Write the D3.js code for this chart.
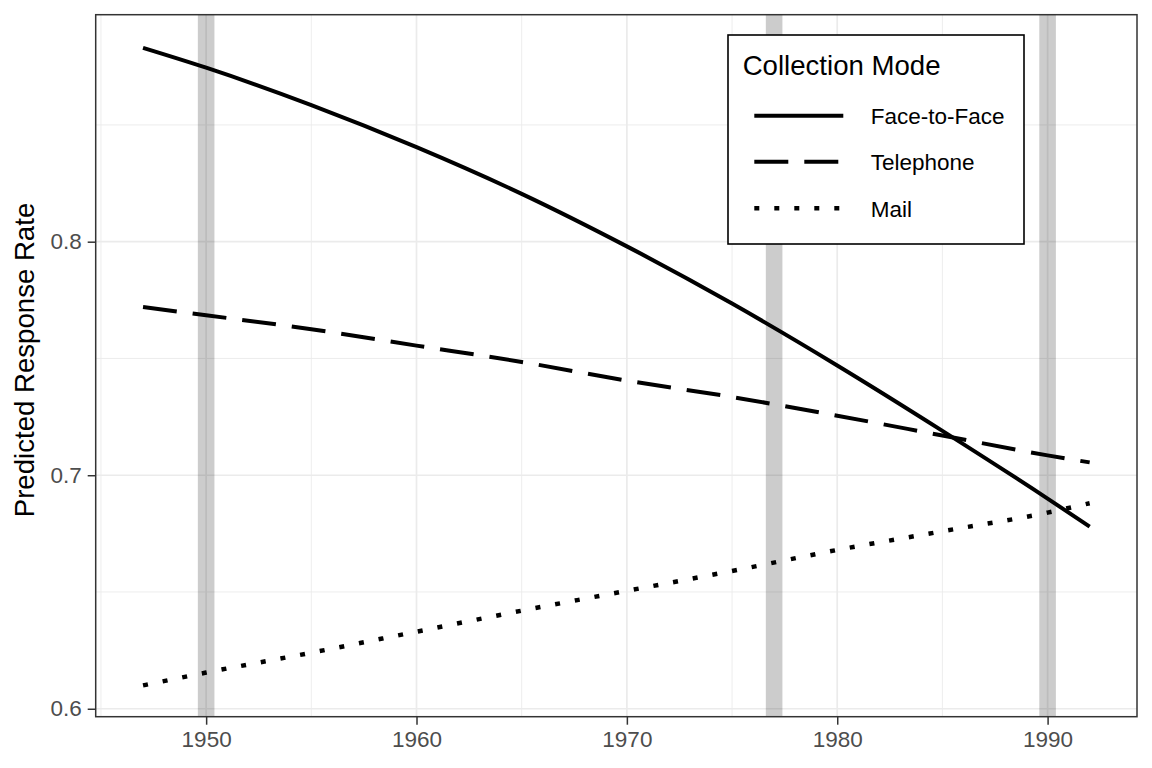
<!DOCTYPE html>
<html>
<head>
<meta charset="utf-8">
<script src="https://cdn.jsdelivr.net/npm/d3@7"></script>
<style>
  body { margin: 0; background: #fff; }
  svg { font-family: "Liberation Sans", Arial, sans-serif; display: block; }
</style>
</head>
<body>
<div id="chart"></div>
<script>
(function(){
  'use strict';

  // data
  var years = [1947, 1950, 1955, 1960, 1965, 1970, 1975, 1980, 1985, 1990, 1992];
  var faceToFace = [0.883, 0.8745, 0.8585, 0.8405, 0.8205, 0.798, 0.7735, 0.747, 0.719, 0.690, 0.678];
  var telephone  = [0.772, 0.7685, 0.7625, 0.7555, 0.7485, 0.7405, 0.7335, 0.7255, 0.717, 0.7085, 0.7055];
  var mail       = [0.610, 0.6155, 0.624, 0.633, 0.642, 0.6505, 0.659, 0.668, 0.676, 0.684, 0.688];
  var bandYears = [1950, 1977, 1990];
  var xTicks = [1950, 1960, 1970, 1980, 1990];
  var xMinor = [1945, 1955, 1965, 1975, 1985];
  var yTicks = [0.6, 0.7, 0.8];
  var yMinor = [0.65, 0.75, 0.85];
  var modes = ['Face-to-Face', 'Telephone', 'Mail'];

  var W = 1152, H = 768,
      left = 95.7, right = 1137, top = 14.7, bottom = 716.7;

  var svg = d3.select('#chart').append('svg')
    .attr('width', W)
    .attr('height', H);

  var x = d3.scaleLinear().domain([1944.75, 1994.25]).range([left, right]);
  var y = d3.scaleLinear().domain([0.5966, 0.8972]).range([bottom, top]);

  // grid
  var grid = svg.append('g');
  grid.selectAll('.xminor').data(xMinor).enter().append('line')
    .attr('x1', function(d){ return x(d); }).attr('x2', function(d){ return x(d); })
    .attr('y1', top).attr('y2', bottom)
    .style('stroke', '#ebebeb').style('stroke-width', 0.9);
  grid.selectAll('.yminor').data(yMinor).enter().append('line')
    .attr('y1', function(d){ return y(d); }).attr('y2', function(d){ return y(d); })
    .attr('x1', left).attr('x2', right)
    .style('stroke', '#ebebeb').style('stroke-width', 0.9);
  grid.selectAll('.xmajor').data(xTicks).enter().append('line')
    .attr('x1', function(d){ return x(d); }).attr('x2', function(d){ return x(d); })
    .attr('y1', top).attr('y2', bottom)
    .style('stroke', '#ebebeb').style('stroke-width', 1.7);
  grid.selectAll('.ymajor').data(yTicks).enter().append('line')
    .attr('y1', function(d){ return y(d); }).attr('y2', function(d){ return y(d); })
    .attr('x1', left).attr('x2', right)
    .style('stroke', '#ebebeb').style('stroke-width', 1.7);

  // grey bands
  svg.selectAll('.band').data(bandYears).enter().append('rect')
    .attr('x', function(d){ return x(d) - 8.3; })
    .attr('width', 16.6)
    .attr('y', top).attr('height', bottom - top)
    .style('fill', '#000').style('fill-opacity', 0.2);

  // lines
  var series = [
    {name: modes[0], values: faceToFace, dash: null},
    {name: modes[1], values: telephone, dash: '34,16'},
    {name: modes[2], values: mail, dash: '5,15'}
  ];

  var line = d3.line()
    .x(function(d, i){ return x(years[i]); })
    .y(function(d){ return y(d); })
    .curve(d3.curveMonotoneX);

  svg.selectAll('.series').data(series).enter().append('path')
    .attr('d', function(d){ return line(d.values); })
    .style('fill', 'none')
    .style('stroke', '#000')
    .style('stroke-width', function(d){ return d.dash === '5,15' ? 4.5 : 4; })
    .style('stroke-dasharray', function(d){ return d.dash; });

  // panel border
  svg.append('rect')
    .attr('x', left).attr('y', top)
    .attr('width', right - left).attr('height', bottom - top)
    .style('fill', 'none').style('stroke', '#333').style('stroke-width', 1.5);

  // axes
  var xAxis = d3.axisBottom(x).tickValues(xTicks).tickFormat(d3.format('d'))
    .tickSize(8).tickPadding(6);
  var gx = svg.append('g')
    .attr('transform', 'translate(0,' + bottom + ')')
    .call(xAxis);
  gx.select('.domain').remove();
  gx.selectAll('line').style('stroke', '#333').style('stroke-width', 1.5);
  gx.selectAll('text').style('fill', '#4d4d4d').style('font-size', '22.5px')
    .style('font-family', '"Liberation Sans", Arial, sans-serif');

  var yAxis = d3.axisLeft(y).tickValues(yTicks).tickFormat(d3.format('.1f'))
    .tickSize(8).tickPadding(6);
  var gy = svg.append('g')
    .attr('transform', 'translate(' + left + ',0)')
    .call(yAxis);
  gy.select('.domain').remove();
  gy.selectAll('line').style('stroke', '#333').style('stroke-width', 1.5);
  gy.selectAll('text').style('fill', '#4d4d4d').style('font-size', '22.5px')
    .style('font-family', '"Liberation Sans", Arial, sans-serif');

  svg.append('text')
    .attr('transform', 'translate(34,360) rotate(-90)')
    .attr('text-anchor', 'middle')
    .style('font-size', '27.6px')
    .style('fill', '#000')
    .text('Predicted Response Rate');

  // legend
  var lg = svg.append('g');
  lg.append('rect')
    .attr('x', 728).attr('y', 35).attr('width', 296).attr('height', 209)
    .style('fill', '#fff').style('stroke', '#000').style('stroke-width', 1.6);
  lg.append('text')
    .attr('x', 742.7).attr('y', 75)
    .style('font-size', '27.6px')
    .text('Collection Mode');

  var keyY = [115.7, 161.7, 208.3];
  series.forEach(function(s, i) {
    lg.append('line')
      .attr('x1', 754.3).attr('x2', 843.3)
      .attr('y1', keyY[i]).attr('y2', keyY[i])
      .style('stroke', '#000')
      .style('stroke-width', s.dash === '5,15' ? 4.5 : 4)
      .style('stroke-dasharray', s.dash);
    lg.append('text')
      .attr('x', 870.7).attr('y', keyY[i] + 8.3)
      .style('font-size', '22.5px')
      .text(s.name);
  });

}());
</script>
</body>
</html>
